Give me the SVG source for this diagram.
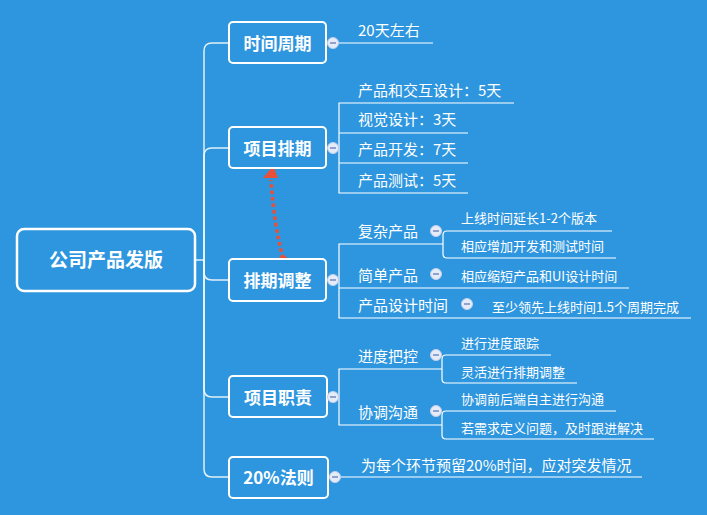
<svg xmlns="http://www.w3.org/2000/svg" width="707" height="515" viewBox="0 0 707 515">
<defs>
<style>
.bg{fill:#2E96DE}
.box{fill:#2E96DE;stroke:#fff;stroke-width:2}
.root{fill:#2E96DE;stroke:#fff;stroke-width:2.5}
.br{fill:none;stroke:#fff;stroke-width:1.5;stroke-opacity:0.85}
.ln{fill:none;stroke:#fff;stroke-width:1.2}
.nt{font-family:"Noto Sans CJK SC","Noto Sans",sans-serif;font-weight:bold;font-size:17px;fill:#fff;text-anchor:middle}
.rt{font-family:"Noto Sans CJK SC","Noto Sans",sans-serif;font-weight:bold;font-size:19px;fill:#fff;text-anchor:middle}
.t15{font-family:"Noto Sans CJK SC","Noto Sans",sans-serif;font-size:15px;fill:#fff}
.t13{font-family:"Noto Sans CJK SC","Noto Sans",sans-serif;font-size:13px;fill:#fff}
.cc{fill:#e6ecf7;stroke:#c3d0ec;stroke-width:1}
.cm{stroke:#7b8fc2;stroke-width:1.6}
.rel{fill:none;stroke:#E8503A;stroke-width:3.5;stroke-dasharray:3.5 3}
</style>
<g id="minus"><circle class="cc" r="5.5"/><line class="cm" x1="-3" y1="0" x2="3" y2="0"/></g>
</defs>
<rect class="bg" x="0" y="0" width="707" height="515"/>

<g id="connectors">
<path class="br" d="M195,260 L204,260"/>
<path class="br" d="M204,260 L204,51 Q204,43 212,43 L229,43"/>
<path class="br" d="M204,260 L204,156 Q204,148 212,148 L229,148"/>
<path class="br" d="M204,260 L204,272 Q204,280 212,280 L229,280"/>
<path class="br" d="M204,260 L204,389 Q204,397 212,397 L229,397"/>
<path class="br" d="M204,260 L204,469 Q204,477 212,477 L229,477"/>
<!-- 时间周期 -->
<path class="ln" d="M337,43 L433,43"/>
<!-- 项目排期 -->
<path class="ln" d="M514,103 L339,103 L339,193 L468,193 M339,133 L468,133 M339,163 L468,163"/>
<!-- 排期调整 -->
<path class="ln" d="M443,244 L339,244 L339,318 L691,318 M339,288 L629,288"/>
<path class="ln" d="M612,231 L447,231 Q443,231 443,235 L443,254 Q443,258 447,258 L616,258"/>
<!-- 项目职责 -->
<path class="ln" d="M442,369 L339,369 L339,425 L442,425"/>
<path class="ln" d="M551,355 L446,355 Q442,355 442,359 L442,379 Q442,383 446,383 L577,383"/>
<path class="ln" d="M616,411 L446,411 Q442,411 442,415 L442,435 Q442,439 446,439 L654,439"/>
<!-- 20%法则 -->
<path class="ln" d="M339,477 L642,477"/>
<!-- relation -->
<path class="rel" d="M283,258 Q274,225 271,180"/>
<circle cx="283" cy="260" r="4.5" fill="#E8503A"/>
<polygon points="273,166 263,178 278,178" fill="#E8503A"/>
</g>

<g id="root"><rect class="root" x="17" y="229" width="178" height="62" rx="7"/><text class="rt" x="106" y="267">公司产品发版</text></g>

<g id="n1"><rect class="box" x="229" y="22" width="97" height="41" rx="4"/><text class="nt" x="277.5" y="49.5">时间周期</text><use href="#minus" x="333" y="43"/></g>
<g id="n1c"><text class="t15" x="358" y="36">20天左右</text></g>

<g id="n2"><rect class="box" x="229" y="127" width="97" height="41" rx="4"/><text class="nt" x="277.5" y="154.5">项目排期</text><use href="#minus" x="333" y="148"/></g>
<g id="n2c">
<text class="t15" x="358" y="96">产品和交互设计：5天</text>
<text class="t15" x="358" y="125">视觉设计：3天</text>
<text class="t15" x="358" y="155">产品开发：7天</text>
<text class="t15" x="358" y="186">产品测试：5天</text>
</g>

<g id="n3"><rect class="box" x="229" y="259" width="97" height="42" rx="4"/><text class="nt" x="277.5" y="286.5">排期调整</text><use href="#minus" x="333" y="280"/></g>
<g id="n3a"><text class="t15" x="358" y="237">复杂产品</text><use href="#minus" x="436" y="231"/>
<text class="t13" x="461" y="223">上线时间延长1-2个版本</text>
<text class="t13" x="461" y="251">相应增加开发和测试时间</text></g>
<g id="n3b"><text class="t15" x="358" y="281">简单产品</text><use href="#minus" x="436" y="274"/>
<text class="t13" x="461" y="281">相应缩短产品和UI设计时间</text></g>
<g id="n3c"><text class="t15" x="358" y="311">产品设计时间</text><use href="#minus" x="467" y="304"/>
<text class="t13" x="492" y="312">至少领先上线时间1.5个周期完成</text></g>

<g id="n4"><rect class="box" x="229" y="376" width="98" height="41" rx="4"/><text class="nt" x="278" y="403.5">项目职责</text><use href="#minus" x="333" y="397"/></g>
<g id="n4a"><text class="t15" x="358" y="362">进度把控</text><use href="#minus" x="436" y="355"/>
<text class="t13" x="461" y="348">进行进度跟踪</text>
<text class="t13" x="461" y="377">灵活进行排期调整</text></g>
<g id="n4b"><text class="t15" x="358" y="418">协调沟通</text><use href="#minus" x="436" y="411"/>
<text class="t13" x="461" y="404">协调前后端自主进行沟通</text>
<text class="t13" x="461" y="433">若需求定义问题，及时跟进解决</text></g>

<g id="n5"><rect class="box" x="229" y="457" width="99" height="41" rx="4"/><text class="nt" x="278.5" y="483.5">20%法则</text><use href="#minus" x="335" y="477"/></g>
<g id="n5c"><text class="t15" x="361" y="471">为每个环节预留20%时间，应对突发情况</text></g>
</svg>
